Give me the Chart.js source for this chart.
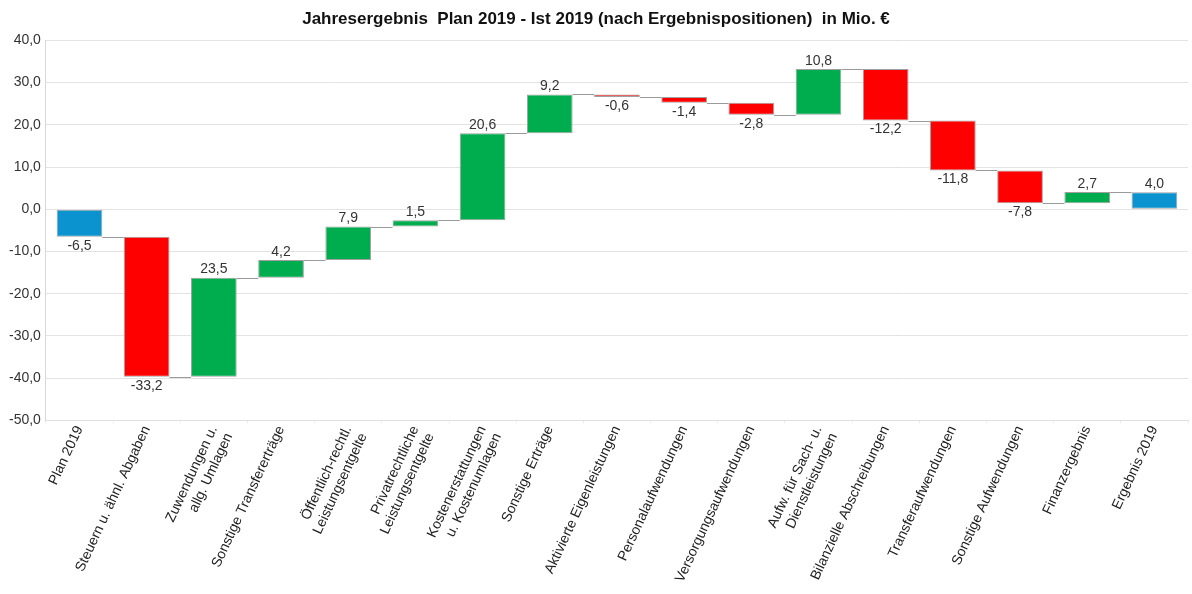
<!DOCTYPE html>
<html>
<head>
<meta charset="utf-8">
<script src="https://cdn.jsdelivr.net/npm/chart.js@4/dist/chart.umd.min.js"></script>
<style>
  html, body { margin: 0; padding: 0; background: #fff; }
  #wrap { width: 1192px; height: 594px; }
</style>
</head>
<body>
<div id="wrap"><canvas id="wf"></canvas></div>
<script>
const categories = [
  'Plan 2019',
  'Steuern u. ähnl. Abgaben',
  ['Zuwendungen u.', 'allg. Umlagen'],
  'Sonstige Transfererträge',
  ['Öffentlich-rechtl.', 'Leistungsentgelte'],
  ['Privatrechtliche', 'Leistungsentgelte'],
  ['Kostenerstattungen', 'u. Kostenumlagen'],
  'Sonstige Erträge',
  'Aktivierte Eigenleistungen',
  'Personalaufwendungen',
  'Versorgungsaufwendungen',
  ['Aufw. für Sach- u.', 'Dienstleistungen'],
  'Bilanzielle Abschreibungen',
  'Transferaufwendungen',
  'Sonstige Aufwendungen',
  'Finanzergebnis',
  'Ergebnis 2019'
];
const values = [-6.5, -33.2, 23.5, 4.2, 7.9, 1.5, 20.6, 9.2, -0.6, -1.4, -2.8, 10.8, -12.2, -11.8, -7.8, 2.7, 4.0];
const isTotal = [true, false, false, false, false, false, false, false, false, false, false, false, false, false, false, false, true];
const yTicks = [40, 30, 20, 10, 0, -10, -20, -30, -40, -50];

const BLUE = '#0a93cf', RED = '#ff0000', GREEN = '#00ad4e';
const FONT = '"Liberation Sans", Arial, sans-serif';

// floating ranges from the running sum
let run = 0;
const ranges = [];
const levels = [];
values.forEach((v, i) => {
  if (isTotal[i]) { ranges.push([0, v]); run = v; }
  else { ranges.push([run, run + v]); run += v; }
  levels.push(run);
});
const colors = values.map((v, i) => isTotal[i] ? BLUE : (v < 0 ? RED : GREEN));

const fmt = v => v.toFixed(1).replace('.', ',');

const waterfallExtras = {
  id: 'waterfallExtras',
  afterDatasetsDraw(chart) {
    const ctx = chart.ctx;
    const meta = chart.getDatasetMeta(0);
    const y = chart.scales.y;
    ctx.save();
    // connectors
    ctx.strokeStyle = '#9a9a9a';
    ctx.lineWidth = 1;
    for (let i = 0; i < meta.data.length - 1; i++) {
      const a = meta.data[i], b = meta.data[i + 1];
      const py = Math.round(y.getPixelForValue(levels[i])) + 0.5;
      ctx.beginPath();
      ctx.moveTo(a.x + a.width / 2, py);
      ctx.lineTo(b.x - b.width / 2, py);
      ctx.stroke();
    }
    // value labels
    ctx.fillStyle = '#333';
    ctx.font = '14px ' + FONT;
    ctx.textAlign = 'center';
    meta.data.forEach((bar, i) => {
      const v = values[i];
      const r = ranges[i];
      if (v >= 0) {
        ctx.textBaseline = 'bottom';
        ctx.fillText(fmt(v), bar.x, y.getPixelForValue(Math.max(r[0], r[1])) - 1);
      } else {
        ctx.textBaseline = 'top';
        ctx.fillText(fmt(v), bar.x, y.getPixelForValue(Math.min(r[0], r[1])) + 2);
      }
    });
    ctx.restore();
  }
};

new Chart(document.getElementById('wf'), {
  type: 'bar',
  data: {
    labels: categories,
    datasets: [{
      data: ranges,
      backgroundColor: colors,
      borderColor: '#a0a0a0',
      borderWidth: 1,
      borderSkipped: false,
      categoryPercentage: 0.68,
      barPercentage: 1
    }]
  },
  options: {
    responsive: true,
    maintainAspectRatio: false,
    animation: false,
    layout: { padding: { top: 9, right: 4, left: 4, bottom: 2 } },
    plugins: {
      legend: { display: false },
      tooltip: { enabled: false },
      title: {
        display: true,
        text: 'Jahresergebnis  Plan 2019 - Ist 2019 (nach Ergebnispositionen)  in Mio. €',
        color: '#111',
        font: { family: FONT, size: 17, weight: 'bold' },
        padding: { top: 0, bottom: 11 }
      }
    },
    scales: {
      x: {
        grid: { display: true, drawOnChartArea: false, drawTicks: true, tickLength: 3, color: '#ececec' },
        border: { color: '#e0e0e0' },
        ticks: {
          color: '#222',
          minRotation: 65,
          maxRotation: 65,
          autoSkip: false,
          padding: 0,
          font: { family: FONT, size: 14 }
        }
      },
      y: {
        min: -50,
        max: 40,
        afterBuildTicks(axis) { axis.ticks = yTicks.map(v => ({ value: v })); },
        grid: { color: '#e3e3e3', drawTicks: false },
        border: { color: '#d8d8d8' },
        ticks: {
          color: '#333',
          padding: 5,
          font: { family: FONT, size: 14 },
          callback: v => fmt(v)
        }
      }
    }
  },
  plugins: [waterfallExtras]
});
</script>
</body>
</html>
